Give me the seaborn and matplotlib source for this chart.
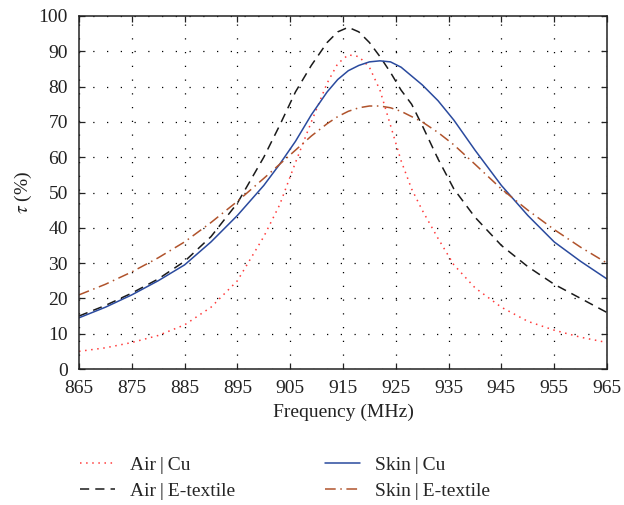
import numpy as np
import pandas as pd
import matplotlib
matplotlib.use("Agg")
import matplotlib.pyplot as plt
import seaborn as sns

freq = [865, 870, 875, 880, 885, 890, 895, 900, 903, 906, 909, 912, 914, 916, 918, 920,
        922, 924, 926, 928, 930, 933, 936, 940, 945, 950, 955, 960, 965]

air_cu = [5.0, 6.0, 7.5, 9.5, 12.5, 17.5, 25.0, 37.5, 46.5, 58.5, 70.0, 81.0, 86.5, 89.0, 88.5, 85.5,
          79.0, 69.0, 59.0, 51.0, 45.0, 37.0, 29.5, 23.0, 17.5, 13.5, 11.0, 9.0, 7.5]
air_et = [15.0, 18.0, 21.5, 25.5, 30.5, 37.5, 47.0, 60.0, 69.0, 78.5, 86.0, 92.5, 95.5, 96.8, 95.5, 92.5,
          88.5, 84.0, 79.0, 75.0, 69.0, 59.5, 51.0, 43.0, 35.0, 29.0, 24.0, 20.0, 16.0]
skin_cu = [14.5, 17.5, 21.0, 25.0, 29.5, 36.0, 43.5, 52.0, 58.0, 64.5, 72.0, 78.5, 82.0, 84.5, 86.0, 87.0,
           87.3, 87.0, 85.5, 83.0, 80.5, 76.0, 70.5, 62.0, 52.0, 43.5, 36.0, 30.5, 25.5]
skin_et = [21.0, 24.0, 27.5, 31.5, 36.0, 41.5, 47.5, 54.0, 58.0, 62.0, 66.0, 69.5, 71.5, 73.0, 74.0, 74.5,
           74.5, 74.0, 73.0, 71.5, 70.0, 67.0, 63.5, 58.0, 51.0, 45.0, 39.5, 34.5, 30.0]

labels = ["Air\u2009|\u2009Cu", "Air\u2009|\u2009E-textile", "Skin\u2009|\u2009Cu", "Skin\u2009|\u2009E-textile"]
series = [air_cu, air_et, skin_cu, skin_et]

rows = []
for lab, vals in zip(labels, series):
    for f, v in zip(freq, vals):
        rows.append({"freq": f, "tau": v, "series": lab})
df = pd.DataFrame(rows)

sns.set_theme(style="white")
plt.rcParams["font.family"] = ["Liberation Serif", "DejaVu Serif"]
plt.rcParams["mathtext.fontset"] = "stix"

fig = plt.figure(figsize=(6.24, 5.05), dpi=100)
ax = fig.add_axes([79 / 624, 1 - 369 / 505, 528 / 624, 353 / 505])

colors = ["#ff3b3b", "#1a1a1a", "#2a4a9e", "#b0532c"]
styles = [(0, (1, 3)), (0, (6, 4)), "-", (0, (7, 3, 1, 3))]

handles = []
for lab, c, ls in zip(labels, colors, styles):
    sub = df[df["series"] == lab]
    sns.lineplot(data=sub, x="freq", y="tau", ax=ax, color=c, linewidth=1.1,
                 linestyle=ls, label=lab, legend=False)
    handles.append(ax.lines[-1])

ax.set_xlim(865, 965)
ax.set_ylim(0, 100)
ax.set_xticks(np.arange(865, 966, 10))
ax.set_yticks(np.arange(0, 101, 10))
ax.grid(True, color="black", linestyle=(0, (1, 10)), linewidth=0.9)
for s in ax.spines.values():
    s.set_color("#222222")
    s.set_linewidth(1.1)
ax.tick_params(axis="both", direction="in", length=4, width=0.9, labelsize=14, colors="#222222",
               top=True, right=True, bottom=True, left=True)
ax.tick_params(axis="x", pad=8)
ax.tick_params(axis="y", pad=8)
ax.set_xlabel("Frequency (MHz)", fontsize=14, color="#222222")
ax.set_ylabel(r"$\tau$ (%)", fontsize=14, color="#222222")
ax.xaxis.set_label_coords(0.5, -0.098)
ax.yaxis.set_label_coords(-0.085, 0.5)

fig.legend(handles, labels, loc="upper left", bbox_to_anchor=(0.112, 0.115), ncol=2, frameon=False,
           fontsize=14, columnspacing=4.6, handlelength=1.8, handletextpad=0.8, labelspacing=0.4,
           borderpad=0.0)

fig.savefig("out.png", dpi=100)
